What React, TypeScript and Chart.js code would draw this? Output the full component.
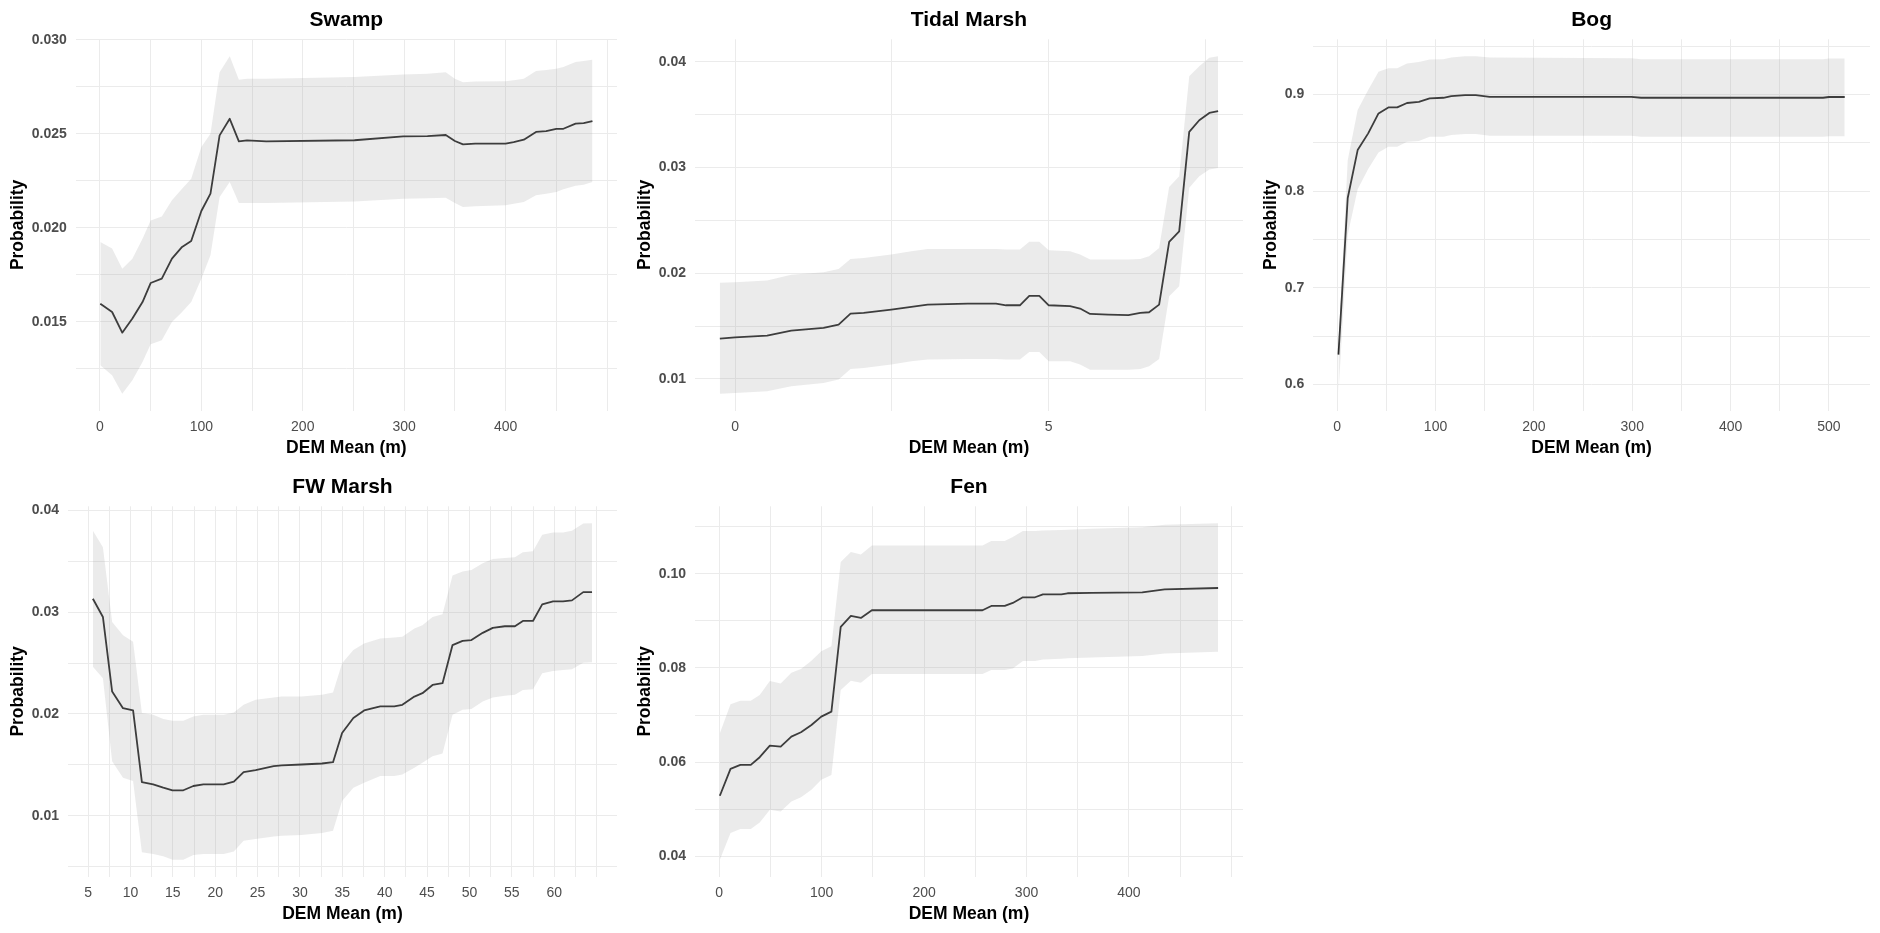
import React, { useEffect, useRef } from 'react';
import { Chart, registerables } from 'chart.js';

Chart.register(...registerables);

// ---------------- DATA ----------------
// Swamp
const swampX = [0.4, 12, 22, 32, 42, 50, 61, 71, 81, 90, 100, 109, 118, 128, 137, 145, 164, 251, 299, 323, 341, 350, 358, 370, 400, 408, 418, 430, 440, 450, 457, 469, 477, 485.6];
const swampMean = [0.01597, 0.01553, 0.01443, 0.01518, 0.01606, 0.01707, 0.0173, 0.01837, 0.01899, 0.0193, 0.0209, 0.02182, 0.02492, 0.0258, 0.0246, 0.02465, 0.0246, 0.02466, 0.02487, 0.02488, 0.02494, 0.02462, 0.02444, 0.02448, 0.02448, 0.02456, 0.02469, 0.0251, 0.02515, 0.02527, 0.02527, 0.02554, 0.02557, 0.02568];
const swampUpper = [0.01925, 0.0189, 0.01783, 0.01836, 0.01943, 0.0204, 0.02061, 0.02147, 0.02208, 0.02262, 0.0243, 0.025, 0.02828, 0.02913, 0.02788, 0.02793, 0.02793, 0.02802, 0.02816, 0.0282, 0.02828, 0.02793, 0.02775, 0.02778, 0.0278, 0.02785, 0.02793, 0.02834, 0.0284, 0.02846, 0.02855, 0.02882, 0.02888, 0.02894];
const swampLower = [0.0127, 0.01217, 0.01119, 0.0119, 0.01287, 0.01381, 0.01403, 0.015, 0.01553, 0.01606, 0.0173, 0.01854, 0.02164, 0.02244, 0.02132, 0.02132, 0.02132, 0.02141, 0.02155, 0.02158, 0.02161, 0.02132, 0.02111, 0.02115, 0.0212, 0.02128, 0.02138, 0.02173, 0.02182, 0.02191, 0.02205, 0.02224, 0.0223, 0.02244];
const swampXTicks = [0, 100, 200, 300, 400];
const swampYTicks = [0.015, 0.02, 0.025, 0.03];

// Tidal Marsh
const tidalX = [-0.243, 0, 0.51, 0.895, 1.41, 1.65, 1.84, 2.05, 2.49, 2.81, 3.07, 3.71, 4.16, 4.32, 4.54, 4.69, 4.85, 5.0, 5.34, 5.5, 5.66, 5.95, 6.27, 6.46, 6.6, 6.76, 6.92, 7.08, 7.24, 7.4, 7.56, 7.7];
const tidalMean = [0.01382, 0.01394, 0.0141, 0.01457, 0.01483, 0.01514, 0.01618, 0.01625, 0.01656, 0.01681, 0.01703, 0.01713, 0.01713, 0.01697, 0.01697, 0.01785, 0.01785, 0.01697, 0.01688, 0.01666, 0.01615, 0.01609, 0.01603, 0.01625, 0.01631, 0.01703, 0.02297, 0.02397, 0.03338, 0.03448, 0.03517, 0.03533];
const tidalUpper = [0.01909, 0.01915, 0.01931, 0.01987, 0.02009, 0.0204, 0.02136, 0.02145, 0.02177, 0.02208, 0.0223, 0.0223, 0.0223, 0.02224, 0.02224, 0.02297, 0.02297, 0.02218, 0.02208, 0.02177, 0.02129, 0.02129, 0.02129, 0.02136, 0.02161, 0.0224, 0.02817, 0.02918, 0.03864, 0.03959, 0.04038, 0.04054];
const tidalLower = [0.00861, 0.00868, 0.00883, 0.00931, 0.00962, 0.00994, 0.01095, 0.01104, 0.01136, 0.01167, 0.01183, 0.01189, 0.01189, 0.01183, 0.01183, 0.01256, 0.01256, 0.01167, 0.01167, 0.01136, 0.01088, 0.01088, 0.01088, 0.01095, 0.0112, 0.01189, 0.01782, 0.01877, 0.02808, 0.02918, 0.02981, 0.02997];
const tidalXTicks = [0, 5];
const tidalYTicks = [0.01, 0.02, 0.03, 0.04];

// Bog
const bogX = [1.3, 10.7, 20.8, 31.5, 42, 52, 61, 71, 83, 94, 108, 116, 130, 141, 155, 299, 309, 494, 500, 516];
const bogMean = [0.631, 0.793, 0.8425, 0.8598, 0.8804, 0.8866, 0.8866, 0.8912, 0.8924, 0.8959, 0.8966, 0.8983, 0.8993, 0.8993, 0.8976, 0.8976, 0.8966, 0.8966, 0.8974, 0.8974];
const bogUpper = [0.64, 0.832, 0.884, 0.9045, 0.9234, 0.9272, 0.9272, 0.932, 0.9335, 0.9361, 0.9363, 0.9382, 0.9396, 0.9396, 0.9382, 0.9375, 0.9365, 0.9365, 0.9373, 0.9373];
const bogLower = [0.5907, 0.755, 0.802, 0.823, 0.84, 0.846, 0.846, 0.851, 0.852, 0.8563, 0.8563, 0.858, 0.8591, 0.8591, 0.8573, 0.8573, 0.8563, 0.8563, 0.8568, 0.8568];
const bogXTicks = [0, 100, 200, 300, 400, 500];
const bogYTicks = [0.6, 0.7, 0.8, 0.9];

// FW Marsh
const fwX = [5.57, 6.75, 7.84, 9.12, 10.31, 11.35, 12.68, 13.87, 14.96, 16.24, 17.42, 18.6, 21, 22.2, 23.35, 24.77, 26.9, 27.85, 30.2, 32.6, 33.9, 34.97, 36.3, 37.57, 39.47, 41.13, 42.08, 43.5, 44.45, 45.64, 46.82, 48.0, 49.19, 50.23, 51.56, 52.75, 54.17, 55.36, 56.3, 57.49, 58.58, 59.86, 61.04, 62.09, 63.42, 64.46];
const fwMean = [0.03131, 0.02952, 0.0222, 0.02057, 0.02035, 0.01332, 0.01309, 0.01277, 0.01251, 0.01251, 0.01293, 0.01309, 0.01309, 0.01335, 0.0143, 0.01449, 0.01488, 0.01495, 0.01504, 0.01514, 0.01527, 0.01813, 0.0196, 0.02035, 0.02074, 0.02074, 0.0209, 0.02171, 0.02204, 0.02285, 0.02302, 0.02676, 0.02718, 0.02725, 0.02796, 0.02845, 0.02861, 0.02861, 0.02913, 0.02913, 0.03076, 0.03105, 0.03105, 0.03115, 0.03196, 0.03196];
const fwUpper = [0.03798, 0.03636, 0.02903, 0.02773, 0.02708, 0.02009, 0.01992, 0.0195, 0.01934, 0.01934, 0.01976, 0.01992, 0.01992, 0.02015, 0.0209, 0.02139, 0.02162, 0.02171, 0.02171, 0.02188, 0.0221, 0.02497, 0.02627, 0.02692, 0.02741, 0.02751, 0.02757, 0.02838, 0.02871, 0.02952, 0.02978, 0.03359, 0.03398, 0.03414, 0.03479, 0.03522, 0.03531, 0.03538, 0.03587, 0.03597, 0.03759, 0.03782, 0.03782, 0.03798, 0.0387, 0.03873];
const fwLower = [0.02464, 0.0235, 0.01537, 0.01374, 0.01342, 0.00642, 0.00626, 0.00603, 0.0057, 0.0057, 0.00616, 0.00626, 0.00626, 0.00649, 0.00756, 0.00772, 0.00798, 0.00805, 0.00811, 0.00831, 0.00854, 0.01146, 0.01277, 0.01325, 0.0139, 0.0139, 0.01407, 0.01472, 0.01521, 0.01586, 0.01612, 0.01992, 0.02041, 0.02048, 0.02123, 0.02162, 0.02178, 0.02188, 0.02236, 0.02243, 0.02399, 0.02422, 0.02432, 0.02438, 0.02503, 0.02507];
const fwXTicks = [5, 10, 15, 20, 25, 30, 35, 40, 45, 50, 55, 60];
const fwYTicks = [0.01, 0.02, 0.03, 0.04];

// Fen
const fenX = [0.6, 11, 20.6, 30.8, 39.5, 49.4, 60, 70.4, 79.8, 90, 99.6, 109.5, 118.6, 128.5, 138.3, 149, 257, 265.6, 278.7, 286.6, 296.4, 308.3, 316, 334, 340, 363.6, 413, 434.8, 487];
const fenMean = [0.05285, 0.05856, 0.05941, 0.05941, 0.06104, 0.06351, 0.06329, 0.06541, 0.06633, 0.06788, 0.06965, 0.07071, 0.0887, 0.09104, 0.09061, 0.09224, 0.09224, 0.09315, 0.09315, 0.09379, 0.09499, 0.09499, 0.09562, 0.09562, 0.09584, 0.09591, 0.09605, 0.09668, 0.09696];
const fenUpper = [0.06612, 0.07226, 0.07304, 0.07304, 0.07424, 0.0772, 0.07671, 0.07896, 0.07974, 0.0815, 0.08355, 0.08461, 0.10247, 0.10459, 0.10409, 0.106, 0.106, 0.10692, 0.10692, 0.10776, 0.10904, 0.10904, 0.10918, 0.10925, 0.10932, 0.10953, 0.10988, 0.11038, 0.11073];
const fenLower = [0.03929, 0.04494, 0.04579, 0.04579, 0.0472, 0.04988, 0.04953, 0.05165, 0.05256, 0.05412, 0.05624, 0.05729, 0.07529, 0.07727, 0.07685, 0.07868, 0.07868, 0.07953, 0.07953, 0.07988, 0.08144, 0.08144, 0.08179, 0.08193, 0.08205, 0.08221, 0.0825, 0.08306, 0.08341];
const fenXTicks = [0, 100, 200, 300, 400];
const fenYTicks = [0.04, 0.06, 0.08, 0.1];

const X_TITLE = 'DEM Mean (m)';
const Y_TITLE = 'Probability';

// ---------------- STYLE ----------------
const FONT = "'Liberation Sans', Arial, Helvetica, sans-serif";
const GRID = '#EBEBEB';
const RIBBON = 'rgba(153,153,153,0.2)';
const LINE = '#262626';
const TICK = '#4D4D4D';

type Panel = {
  title: string;
  x: number[];
  mean: number[];
  lower: number[];
  upper: number[];
  xTicks: number[];
  yTicks: number[];
  yDec: number;
  left: number;
  top: number;
  width: number;
  height: number;
};

const panels: Panel[] = [
  { title: 'Swamp', x: swampX, mean: swampMean, lower: swampLower, upper: swampUpper, xTicks: swampXTicks, yTicks: swampYTicks, yDec: 3, left: 0, top: 0, width: 627, height: 467 },
  { title: 'Tidal Marsh', x: tidalX, mean: tidalMean, lower: tidalLower, upper: tidalUpper, xTicks: tidalXTicks, yTicks: tidalYTicks, yDec: 2, left: 627, top: 0, width: 626, height: 467 },
  { title: 'Bog', x: bogX, mean: bogMean, lower: bogLower, upper: bogUpper, xTicks: bogXTicks, yTicks: bogYTicks, yDec: 1, left: 1253, top: 0, width: 627, height: 467 },
  { title: 'FW Marsh', x: fwX, mean: fwMean, lower: fwLower, upper: fwUpper, xTicks: fwXTicks, yTicks: fwYTicks, yDec: 2, left: 0, top: 467, width: 627, height: 466 },
  { title: 'Fen', x: fenX, mean: fenMean, lower: fenLower, upper: fenUpper, xTicks: fenXTicks, yTicks: fenYTicks, yDec: 2, left: 627, top: 467, width: 626, height: 466 },
];

function expand(vals: number[]): [number, number] {
  const lo = Math.min(...vals);
  const hi = Math.max(...vals);
  const d = (hi - lo) * 0.05;
  return [lo - d, hi + d];
}

function gridValues(major: number[], lo: number, hi: number): number[] {
  const half = (major[1] - major[0]) / 2;
  const out: number[] = [];
  const start = Math.ceil(lo / half - 1e-9);
  for (let k = start; k * half <= hi + 1e-12; k++) out.push(+(k * half).toFixed(10));
  return out;
}

function isMajor(v: number, major: number[]): boolean {
  return major.some((m) => Math.abs(m - v) < 1e-9);
}

function PanelChart({ p }: { p: Panel }) {
  const ref = useRef<HTMLCanvasElement | null>(null);
  useEffect(() => {
    if (!ref.current) return;
    const [xmin, xmax] = expand(p.x);
    const [ymin, ymax] = expand([...p.lower, ...p.upper, ...p.mean]);
    const xGrid = gridValues(p.xTicks, xmin, xmax);
    const yGrid = gridValues(p.yTicks, ymin, ymax);
    const pts = (ys: number[]) => p.x.map((x, i) => ({ x, y: ys[i] }));
    const yLabel = (v: number) => v.toFixed(p.yDec);

    const chart = new Chart(ref.current, {
      type: 'line',
      data: {
        datasets: [
          { label: 'upper', data: pts(p.upper), fill: '+1', backgroundColor: RIBBON, borderColor: 'rgba(0,0,0,0)', borderWidth: 0, pointRadius: 0, tension: 0 },
          { label: 'lower', data: pts(p.lower), fill: false, backgroundColor: 'rgba(0,0,0,0)', borderColor: 'rgba(0,0,0,0)', borderWidth: 0, pointRadius: 0, tension: 0 },
          { label: 'mean', data: pts(p.mean), fill: false, borderColor: LINE, borderWidth: 1.8, pointRadius: 0, tension: 0, borderJoinStyle: 'round' },
        ],
      },
      options: {
        animation: false,
        responsive: true,
        maintainAspectRatio: false,
        events: [],
        layout: { padding: { left: 0, right: 10, top: 0, bottom: 0 } },
        plugins: {
          legend: { display: false },
          tooltip: { enabled: false },
          title: {
            display: true,
            text: p.title,
            fullSize: false,
            color: '#000',
            font: { family: FONT, size: 21, weight: 'bold', lineHeight: 1.2 },
            padding: { top: 7.4, bottom: 6.7 },
          },
        },
        scales: {
          x: {
            type: 'linear',
            min: xmin,
            max: xmax,
            afterBuildTicks: (s: any) => { s.ticks = xGrid.map((v) => ({ value: v })); },
            afterFit: (s: any) => { s.height = 56.5; },
            ticks: {
              autoSkip: false,
              maxRotation: 0,
              minRotation: 0,
              padding: 8,
              color: TICK,
              font: { family: FONT, size: 14, lineHeight: 1.2 },
              callback: (v: any) => (isMajor(Number(v), p.xTicks) ? String(Number(v)) : ''),
            },
            grid: { color: GRID, lineWidth: 1, drawTicks: false },
            border: { display: false },
            title: {
              display: true,
              text: X_TITLE,
              color: '#000',
              font: { family: FONT, size: 17.5, weight: 'bold', lineHeight: 1.2 },
              padding: { top: 0, bottom: 8.5 },
            },
          },
          y: {
            type: 'linear',
            min: ymin,
            max: ymax,
            afterBuildTicks: (s: any) => { s.ticks = yGrid.map((v) => ({ value: v })); },
            afterFit: (s: any) => {
              const ctx = s.ctx;
              ctx.save();
              ctx.font = `bold 14px ${FONT}`;
              const w = Math.max(...p.yTicks.map((v) => ctx.measureText(yLabel(v)).width));
              ctx.restore();
              s.width = 31.7 + w + 9;
            },
            ticks: {
              autoSkip: false,
              padding: 9,
              color: TICK,
              font: { family: FONT, size: 14, weight: 'bold', lineHeight: 1.2 },
              callback: (v: any) => (isMajor(Number(v), p.yTicks) ? yLabel(Number(v)) : ''),
            },
            grid: { color: GRID, lineWidth: 1, drawTicks: false },
            border: { display: false },
            title: {
              display: true,
              text: Y_TITLE,
              color: '#000',
              font: { family: FONT, size: 17.5, weight: 'bold', lineHeight: 1.2 },
              padding: { top: 8, bottom: 0 },
            },
          },
        },
      } as any,
    });
    return () => chart.destroy();
  }, [p]);

  return (
    <div style={{ position: 'absolute', left: p.left, top: p.top, width: p.width, height: p.height }}>
      <canvas ref={ref} />
    </div>
  );
}

export default function App() {
  return (
    <div style={{ position: 'absolute', left: 0, top: 0, width: 1880, height: 933, background: '#fff', overflow: 'hidden' }}>
      {panels.map((p) => (
        <PanelChart key={p.title} p={p} />
      ))}
    </div>
  );
}
